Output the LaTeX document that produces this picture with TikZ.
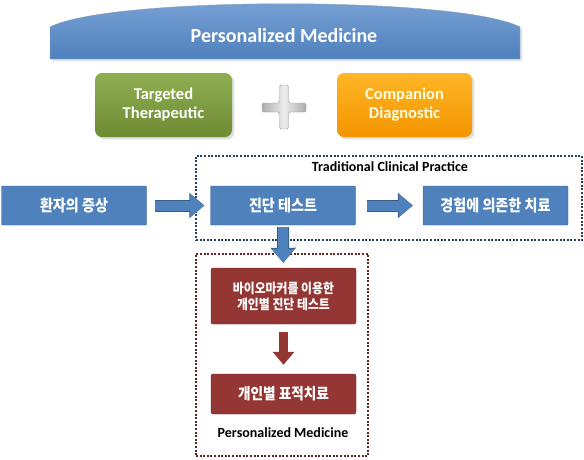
\documentclass[tikz,border=0pt]{standalone}
\usepackage{fontspec}
\setmainfont{Carlito}
\newfontfamily\kr{Noto Sans CJK KR}[FakeStretch=0.88]
\usetikzlibrary{arrows.meta, shadows}

\definecolor{pmblue}{HTML}{4F81BD}
\definecolor{pmblueedge}{HTML}{385D8A}
\definecolor{pmbluetop}{HTML}{79A3D6}
\definecolor{pmnavy}{HTML}{243F60}
\definecolor{pmred}{HTML}{943634}
\definecolor{pmrededge}{HTML}{632523}
\definecolor{pmgreentop}{HTML}{8FAE50}
\definecolor{pmgreen}{HTML}{6E8B35}
\definecolor{pmorangetop}{HTML}{FFB626}
\definecolor{pmorange}{HTML}{F39400}

\begin{document}
\begin{tikzpicture}[x=1pt, y=-1pt,
  toptext/.style={text=white, font=\bfseries\fontsize{16.5}{19}\selectfont, align=center},
  topbox/.style={rounded corners=7pt, minimum height=64pt, drop shadow={opacity=0.25}},
  rowbox/.style={draw=pmblueedge, fill=pmblue, text=white, minimum width=145pt,
    minimum height=39pt, rounded corners=1pt, font=\kr\bfseries\fontsize{16}{18}\selectfont},
  redbox/.style={draw=pmrededge, fill=pmred, text=white, minimum width=145pt,
    rounded corners=2pt, align=center},
  frame/.style={line width=2.6pt, dash pattern=on 2pt off 1.6pt},
  framelabel/.style={font=\bfseries\fontsize{14}{16}\selectfont},
  bluearrow/.style={line width=10pt, pmblue, -{Triangle[width=22pt,length=14pt]},
    preaction={draw=pmblueedge, line width=12pt, -{Triangle[width=24.5pt,length=15pt]}}},
  redarrow/.style={line width=9.5pt, pmred, -{Triangle[width=21pt,length=13pt]}},
]
\useasboundingbox (0,0) rectangle (584,459);
% Banner with a domed top
\shade[top color=pmbluetop, bottom color=pmblue, draw=pmblueedge!60, drop shadow={opacity=0.2}]
  (50,59) -- (50,27) .. controls (110,-4) and (460,-4) .. (520,27) -- (520,59) -- cycle;
\node[text=white, font=\bfseries\fontsize{20}{22}\selectfont] (pmtitle) at (284,36) {Personalized Medicine};
% The two parts that make it up
\node[topbox, toptext, minimum width=137pt, top color=pmgreentop, bottom color=pmgreen]
  (targeted) at (163.5,105) {Targeted\\Therapeutic};
\node[topbox, toptext, text=white!88!yellow, minimum width=135pt, top color=pmorangetop, bottom color=pmorange]
  (companion) at (404.5,105) {Companion\\Diagnostic};
% Silver plus sign between them
\shade[left color=gray!65, right color=gray!65, middle color=gray!15, draw=gray!80, rounded corners=1.5pt]
  (262,103) -- (279.5,103) -- (279.5,85) -- (288.5,85) -- (288.5,103) -- (306,103)
  -- (306,112) -- (288.5,112) -- (288.5,129) -- (279.5,129) -- (279.5,112) -- (262,112) -- cycle;
% Traditional clinical practice
\node[frame, draw=pmnavy, minimum width=386pt, minimum height=84pt] (tcpframe) at (389,198) {};
\node[framelabel] (tcplabel) at (390,167) {Traditional Clinical Practice};
\node[rowbox] (symptom) at (74,205.5) {환자의 증상};
\node[rowbox] (diagtest) at (283,205.5) {진단 테스트};
\node[rowbox] (empiric) at (495.5,205.5) {경험에 의존한 치료};
% Personalized medicine
\node[frame, draw=pmrededge, minimum width=172pt, minimum height=202pt] (pmframe) at (282,355) {};
\node[redbox, minimum height=56pt, font=\kr\bfseries\fontsize{13.5}{16}\selectfont]
  (biotest) at (283.5,296) {바이오마커를 이용한\\개인별 진단 테스트};
\node[redbox, minimum height=40pt, font=\kr\bfseries\fontsize{15.5}{18}\selectfont]
  (pmtherapy) at (283.5,394) {개인별 표적치료};
\node[framelabel] (pmlabel) at (283,433) {Personalized Medicine};
% Block arrows
\draw[bluearrow, shorten <=8pt, shorten >=6pt] (symptom) -- (diagtest);
\draw[bluearrow, shorten <=11pt, shorten >=10pt] (diagtest) -- (empiric);
\draw[bluearrow, shorten <=2pt, shorten >=5pt] (diagtest) -- (biotest);
\draw[redarrow, shorten <=8pt, shorten >=9pt] (biotest) -- (pmtherapy);
\end{tikzpicture}
\end{document}
